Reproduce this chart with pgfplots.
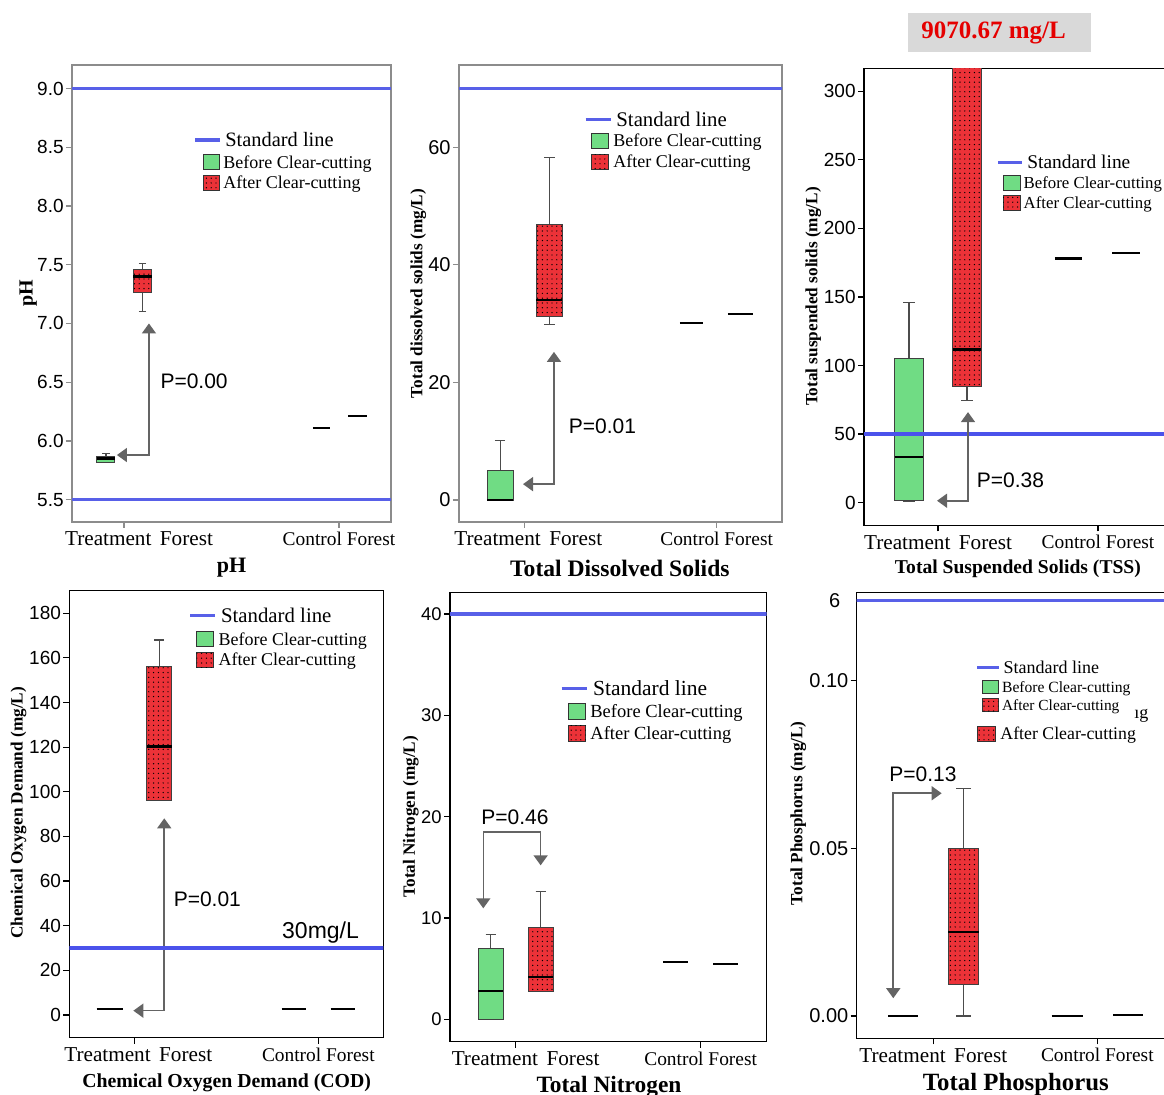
\documentclass[border=0pt]{standalone}
\usepackage{fontspec}
\setmainfont{Liberation Serif}
\newfontfamily\sans{Liberation Sans}
\usepackage{pgfplots}
\pgfplotsset{compat=1.18}
\usepgfplotslibrary{statistics}
\usetikzlibrary{patterns.meta, arrows.meta}
\definecolor{mygreen}{RGB}{112,220,132}
\definecolor{myred}{RGB}{236,50,56}
\definecolor{stdblue}{RGB}{88,96,232}
\definecolor{arrowgray}{RGB}{100,100,100}
\def\u{0.5pt}
\newcommand\fs[1]{\fontsize{#1}{#1}\selectfont}
\tikzset{
  lgreen/.style={draw=black!80, line width=0.5pt, fill=mygreen},
  lred/.style={draw=black!80, line width=0.5pt, fill=myred, postaction={pattern={Dots[distance=2.4pt,radius=0.35pt]}, pattern color=black}},
  parrow/.style={draw=arrowgray, line width=0.8pt, {Triangle[length=5pt,width=7pt]}-{Triangle[length=5pt,width=7pt]}},
}
\pgfplotsset{
  panel/.style={
    scale only axis, anchor=north west,
    axis line style={black, line width=0.7pt},
    tick align=outside, major tick length=3pt,
    tick style={black, line width=0.6pt},
    tick pos=left,
    xtick={0,1},
    xticklabel style={anchor=center, yshift=-5.5pt},
    /pgf/number format/assume math mode=true,
    yticklabel style={font=\sans\fs{9.5}, inner sep=1pt},
    xlabel style={anchor=center, font=\bfseries},
    ylabel style={anchor=center, font=\bfseries\fs{8.6}},
  },
  tl/.style={xticklabels={{\fs{10.6}\kern#1pt Treatment\hspace{0.15em} Forest},{\fs{9.7}Control Forest}}},
  bx/.style={boxplot/draw direction=y, draw=black!75, line width=0.5pt,
     boxplot/every median/.style={draw=black, line width=1.2pt},
     boxplot/every whisker/.style={draw=black!70, line width=0.6pt}},
  before/.style={bx, fill=mygreen},
  after/.style={bx, fill=myred, boxplot/every box/.style={postaction={pattern={Dots[distance=2.4pt,radius=0.35pt]}, pattern color=black}}},
  ctrl/.style={black, line width=1.1pt, no marks},
  std/.style={stdblue, line width=1.6pt, no marks},
}
\newcommand\legline[5]{%
  \draw[stdblue, line width=1.6pt] (#1*\u,-#3*\u) -- (#2*\u,-#3*\u);
  \node[anchor=west, inner sep=0pt, text height=0.66*#5pt, text depth=0pt, font=\fs{#5}] at (#4*\u,-#3*\u) {Standard line};}
\newcommand\legbox[8]{%
  \draw[#1] (#2*\u,{-(#4-#5/2)*\u}) rectangle (#3*\u,{-(#4+#5/2)*\u});
  \node[anchor=west, inner sep=0pt, text height=0.66*#7pt, text depth=0pt, font=\fs{#7}] at (#6*\u,-#4*\u) {#8};}
\begin{document}
\begin{tikzpicture}
\useasboundingbox (0,0) rectangle (582pt,-547.5pt);

% ---------- pH ----------
\begin{axis}[panel, tl=15, at={(36pt,-32.5pt)}, width=159.5pt, height=228.5pt,
  axis line style={black!45, line width=0.8pt}, tick style={black!45},
  xmin=-0.242, xmax=1.242, ymin=5.31, ymax=9.2,
  ytick={5.5,6.0,6.5,7.0,7.5,8.0,8.5,9.0},
  yticklabel style={/pgf/number format/.cd, fixed, fixed zerofill, precision=1},
  xlabel={\fs{11}pH}, xlabel style={at={(axis description cs:0.5,-0.1007)}},
  ylabel={\fs{10}pH}, ylabel style={at={(axis description cs:-0.137,0.501)}},
]
\addplot[before, boxplot prepared={draw position=-0.084, box extend=0.084, whisker extend=0.034, lower whisker=5.82, lower quartile=5.82, median=5.85, upper quartile=5.87, upper whisker=5.89}] coordinates {};
\addplot[after, boxplot prepared={draw position=0.086, box extend=0.084, whisker extend=0.034, lower whisker=7.10, lower quartile=7.26, median=7.40, upper quartile=7.46, upper whisker=7.51}] coordinates {};
\addplot[ctrl, line width=0.8pt] coordinates {(0.879,6.11) (0.958,6.11)};
\addplot[ctrl, line width=0.8pt] coordinates {(1.042,6.21) (1.130,6.21)};
\addplot[std] coordinates {(-1,9.0) (2,9.0)};
\addplot[std] coordinates {(-1,5.5) (2,5.5)};
\draw[parrow] (axis cs:0.116,7.0) |- (axis cs:-0.033,5.88);
\node[font=\sans\fs{10.5}] at (axis cs:0.326,6.51) {P=0.00};
\end{axis}

% ---------- TDS ----------
\begin{axis}[panel, tl=4, at={(229.5pt,-32.5pt)}, width=161.5pt, height=228.5pt,
  axis line style={black!45, line width=0.8pt}, tick style={black!45},
  xmin=-0.34, xmax=1.34, ymin=-3.74, ymax=74,
  ytick={0,20,40,60}, yticklabel style={font=\sans\fs{10}},
  xlabel={\fs{11.8}Total Dissolved Solids}, xlabel style={at={(axis description cs:0.498,-0.101)}},
  ylabel={Total dissolved solids (mg/L)}, ylabel style={at={(axis description cs:-0.126,0.5)}},
]
\addplot[before, boxplot prepared={draw position=-0.126, box extend=0.135, whisker extend=0.054, lower whisker=0, lower quartile=0, median=0, upper quartile=5.1, upper whisker=10.1}] coordinates {};
\addplot[after, boxplot prepared={draw position=0.13, box extend=0.135, whisker extend=0.054, lower whisker=29.8, lower quartile=31.2, median=34.0, upper quartile=46.9, upper whisker=58.3}] coordinates {};
\addplot[ctrl] coordinates {(0.809,30.1) (0.929,30.1)};
\addplot[ctrl] coordinates {(1.059,31.7) (1.188,31.7)};
\addplot[std] coordinates {(-1,70) (2,70)};
\draw[parrow] (axis cs:0.154,25.2) |- (axis cs:-0.007,2.7);
\node[font=\sans\fs{10.5}] at (axis cs:0.406,12.6) {P=0.01};
\end{axis}

% ---------- TSS ----------
\begin{axis}[panel, tl=0, at={(432pt,-34.4pt)}, width=153pt, height=228.25pt,
  xmin=-0.4625, xmax=1.45, ymin=-16.5, ymax=316.3,
  ytick={0,50,100,150,200,250,300},
  xlabel={\fs{9.8}Total Suspended Solids (TSS)}, xlabel style={at={(axis description cs:0.503,-0.0953)}},
  ylabel={Total suspended solids (mg/L)}, ylabel style={at={(axis description cs:-0.166,0.501)}},
]
\addplot[before, boxplot prepared={draw position=-0.181, box extend=0.18, whisker extend=0.072, lower whisker=1, lower quartile=1.9, median=33.1, upper quartile=104.9, upper whisker=146.1}] coordinates {};
\addplot[after, boxplot prepared={draw position=0.181, box extend=0.18, whisker extend=0.072, lower whisker=74.3, lower quartile=84.5, median=111.7, upper quartile=9070.67, upper whisker=9070.67}] coordinates {};
\addplot[ctrl] coordinates {(0.731,178) (0.9,178)};
\addplot[ctrl] coordinates {(1.0875,181.8) (1.2625,181.8)};
\addplot[std, line width=2.2pt, color=stdblue!85!blue] coordinates {(-1,50) (2,50)};
\draw[parrow] (axis cs:0.1875,66) |- (axis cs:-0.006,1.4);
\node[font=\sans\fs{10.5}] at (axis cs:0.453,16.3) {P=0.38};
\end{axis}

% ---------- COD ----------
\begin{axis}[panel, tl=4, at={(34.65pt,-295.35pt)}, width=157pt, height=223.5pt,
  xmin=-0.353, xmax=1.353, ymin=-10.2, ymax=190.1,
  ytick={0,20,40,60,80,100,120,140,160,180},
  xlabel={\fs{9.9}Chemical Oxygen Demand (COD)}, xlabel style={at={(axis description cs:0.501,-0.1007)}},
  ylabel={Chemical Oxygen Demand (mg/L)}, ylabel style={at={(axis description cs:-0.162,0.503)}},
]
\addplot[ctrl] coordinates {(-0.204,2.7) (-0.063,2.7)};
\addplot[after, boxplot prepared={draw position=0.135, box extend=0.136, whisker extend=0.054, lower whisker=96, lower quartile=96, median=120.2, upper quartile=156.1, upper whisker=168}] coordinates {};
\addplot[ctrl] coordinates {(0.801,2.7) (0.933,2.7)};
\addplot[ctrl] coordinates {(1.067,2.7) (1.199,2.7)};
\draw[parrow] (axis cs:0.163,88.1) |- (axis cs:-0.005,1.9);
\addplot[std, line width=2.2pt, color=stdblue!85!blue] coordinates {(-1,30) (2,30)};
\node[font=\sans\fs{10.5}] at (axis cs:0.397,51.8) {P=0.01};
\node[font=\sans\fs{11.5}] at (axis cs:1.012,37) {30mg/L};
\end{axis}

% ---------- TN ----------
\begin{axis}[panel, tl=10, at={(225pt,-296.35pt)}, width=158.35pt, height=224.5pt,
  xmin=-0.355, xmax=1.357, ymin=-2.2, ymax=42.1,
  ytick={0,10,20,30,40}, yticklabel style={font=\sans\fs{9.2}},
  xlabel={\fs{11.7}Total Nitrogen}, xlabel style={at={(axis description cs:0.502,-0.1002)}},
  ylabel={Total Nitrogen (mg/L)}, ylabel style={at={(axis description cs:-0.124,0.501)}},
]
\addplot[before, boxplot prepared={draw position=-0.135, box extend=0.135, whisker extend=0.054, lower whisker=0, lower quartile=0, median=2.83, upper quartile=7.0, upper whisker=8.4}] coordinates {};
\addplot[after, boxplot prepared={draw position=0.135, box extend=0.135, whisker extend=0.054, lower whisker=2.8, lower quartile=2.8, median=4.2, upper quartile=9.09, upper whisker=12.6}] coordinates {};
\addplot[ctrl] coordinates {(0.798,5.63) (0.933,5.63)};
\addplot[ctrl] coordinates {(1.068,5.43) (1.203,5.43)};
\addplot[std, line width=2pt] coordinates {(-1,40) (2,40)};
\draw[parrow] (axis cs:-0.175,10.96) |- (axis cs:0.135,18.47) -- (axis cs:0.135,15.2);
\node[font=\sans\fs{10.5}] at (axis cs:-0.004,19.95) {P=0.46};
\end{axis}

% ---------- TP ----------
\begin{axis}[panel, tl=0, at={(428.35pt,-296.35pt)}, width=156.65pt, height=222.8pt,
  xmin=-0.467, xmax=1.443, ymin=-0.00665, ymax=0.1262,
  ytick={0,0.05,0.1}, scaled y ticks=false,
  yticklabel style={font=\sans\fs{10}, /pgf/number format/.cd, fixed, fixed zerofill, precision=2},
  extra y ticks={0.1239}, extra y tick labels={6},
  extra y tick style={major tick length=0pt, tick label style={xshift=-7pt, font=\sans\fs{11}}},
  xlabel={\fs{12.4}Total Phosphorus}, xlabel style={at={(axis description cs:0.508,-0.1048)}},
  ylabel={Total Phosphorus (mg/L)}, ylabel style={at={(axis description cs:-0.186,0.505)}},
]
\addplot[ctrl] coordinates {(-0.274,0) (-0.091,0)};
\addplot[after, boxplot prepared={draw position=0.185, box extend=0.187, whisker extend=0.09, lower whisker=0, lower quartile=0.0095, median=0.0251, upper quartile=0.05, upper whisker=0.0679}] coordinates {};
\addplot[ctrl] coordinates {(0.722,0) (0.915,0)};
\addplot[ctrl] coordinates {(1.098,0.0002) (1.280,0.0002)};
\addplot[std] coordinates {(-1,0.1239) (2,0.1239)};
\draw[parrow] (axis cs:-0.244,0.0053) |- (axis cs:0.051,0.0664);
\node[font=\sans\fs{10.5}] at (axis cs:-0.063,0.0722) {P=0.13};
\end{axis}

% ---------- legends ----------
\legline{195}{220}{140}{225}{10.2}
\legbox{lgreen}{203}{219}{162.3}{15}{223}{9}{Before Clear-cutting}
\legbox{lred}{203}{219}{182.7}{15}{223}{9}{After Clear-cutting}

\legline{585.7}{610.7}{119.3}{616}{10.4}
\legbox{lgreen}{591.7}{608.3}{141}{15}{613}{9}{Before Clear-cutting}
\legbox{lred}{591.7}{608.3}{161.7}{15}{613}{9}{After Clear-cutting}

\legline{998}{1022}{162.5}{1027}{9.7}
\legbox{lgreen}{1003}{1020}{183.3}{15}{1023.3}{8.4}{Before Clear-cutting}
\legbox{lred}{1003}{1020}{202.6}{15}{1023.3}{8.4}{After Clear-cutting}

\legline{190}{215}{615.7}{220.7}{10.4}
\legbox{lgreen}{196.7}{213.3}{639.3}{15}{218.3}{9}{Before Clear-cutting}
\legbox{lred}{196.7}{213.3}{660}{15}{218.3}{9}{After Clear-cutting}

\legline{561.7}{587.3}{688.3}{592.7}{10.75}
\legbox{lgreen}{568.3}{585.7}{711.7}{16}{590}{9.25}{Before Clear-cutting}
\legbox{lred}{568.3}{585.7}{733.3}{16}{590}{9.25}{After Clear-cutting}

\legline{977.3}{999}{667.3}{1003.3}{9}
\legbox{lgreen}{982.7}{998.3}{687.3}{13}{1001.7}{7.8}{Before Clear-cutting}
\legbox{lred}{982.7}{998.3}{705}{13}{1001.7}{7.7}{After Clear-cutting}
\node[anchor=west, inner sep=0pt, font=\fs{9}] at (1134*\u,-716*\u) {ıg};
\legbox{lred}{977.7}{995.7}{734}{15.6}{1000}{8.9}{After Clear-cutting}

% ---------- max value label ----------
\fill[black!15] (908*\u,-13*\u) rectangle (1091*\u,-52*\u);
\node[font=\bfseries\fs{12.5}, text=red!90!black, inner sep=0pt] at (993.5*\u,-33*\u) {9070.67 mg/L};
\end{tikzpicture}
\end{document}
